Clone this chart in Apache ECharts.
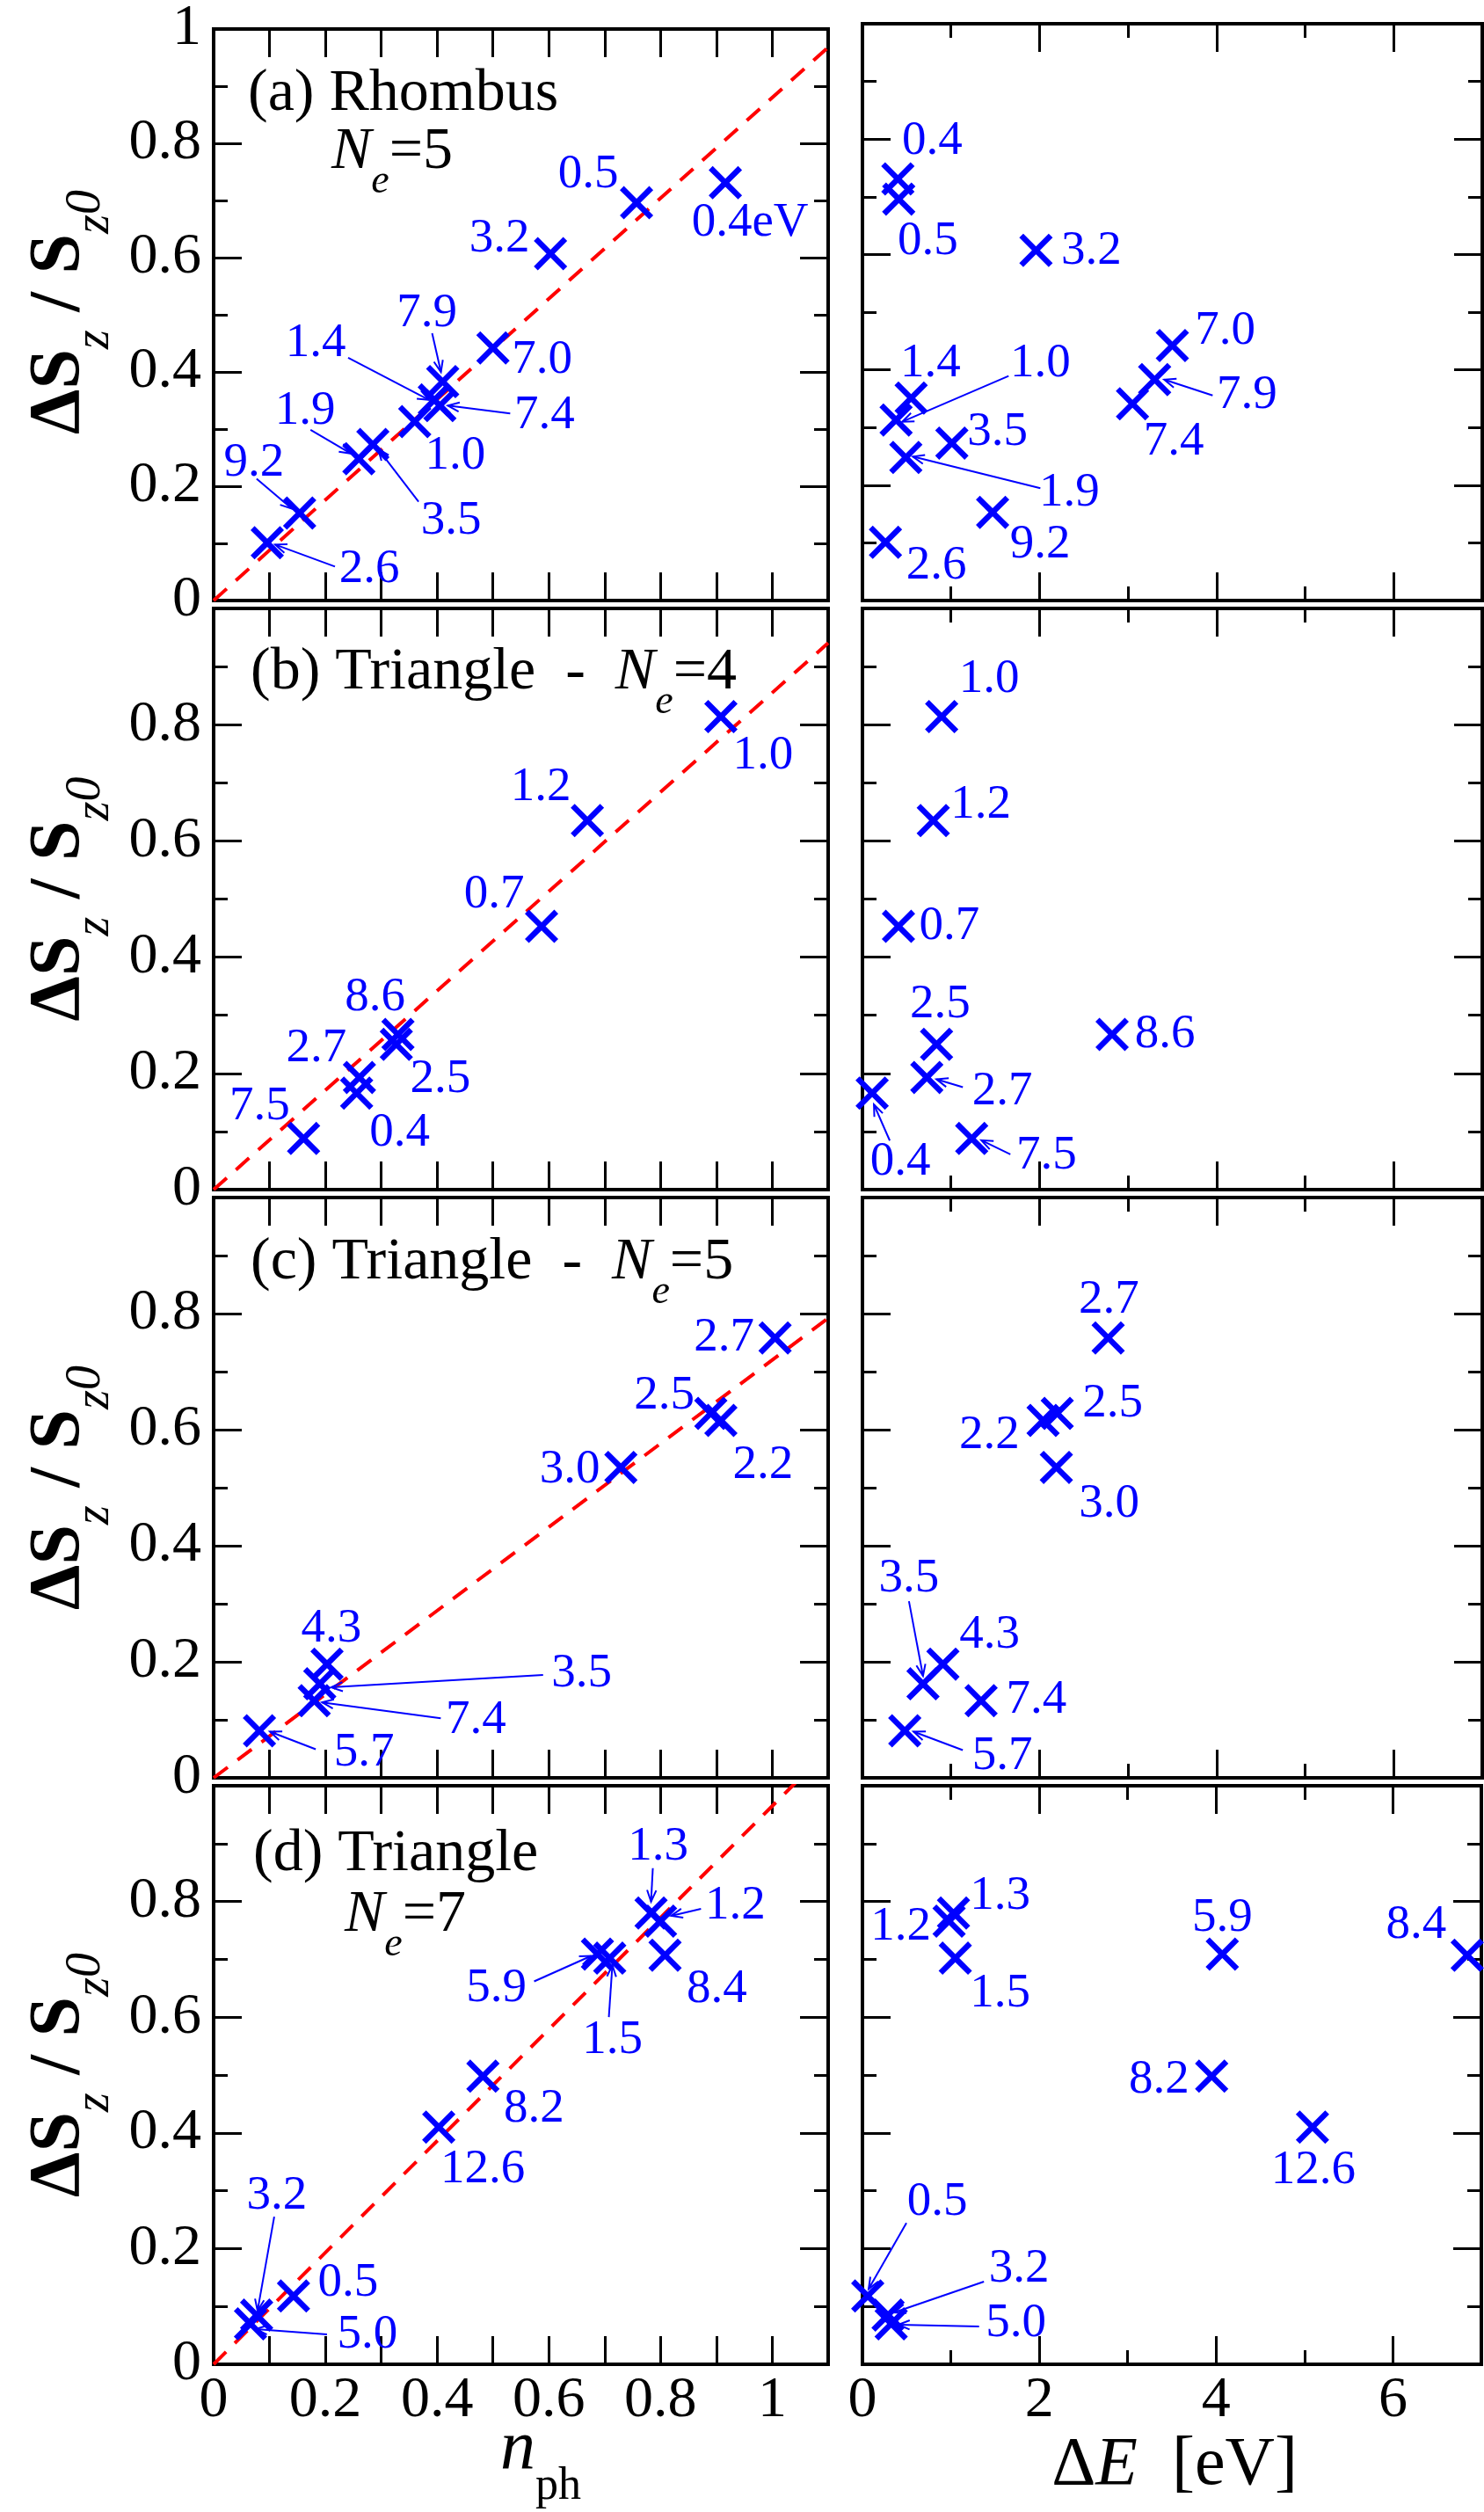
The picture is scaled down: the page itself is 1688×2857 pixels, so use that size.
<!DOCTYPE html>
<html>
<head>
<meta charset="utf-8">
<title>dSz/Sz0 vs n_ph and dE</title>
<script src="https://cdn.jsdelivr.net/npm/echarts@6.0.0/dist/echarts.min.js"></script>
<style>
  html, body { margin: 0; padding: 0; background: #fff; }
  #main { width: 1688px; height: 2857px; }
</style>
</head>
<body>
<div id="main"></div>
<script>
// ---- data ----
// (a) rhombus, Ne=5
const tagsA = ['0.4', '0.5', '3.2', '7.0', '7.9', '1.4', '7.4', '1.0', '1.9', '3.5', '9.2', '2.6'];
const nphA = [0.916, 0.757, 0.603, 0.50, 0.41, 0.395, 0.405, 0.36, 0.26, 0.285, 0.154, 0.096];
const dsA = [0.731, 0.696, 0.607, 0.442, 0.383, 0.351, 0.341, 0.313, 0.248, 0.273, 0.153, 0.101];
const deA = [0.40, 0.41, 1.96, 3.50, 3.30, 0.55, 3.05, 0.38, 0.49, 1.01, 1.47, 0.26];
// (b) triangle, Ne=4
const tagsB = ['1.0', '1.2', '0.7', '8.6', '2.5', '2.7', '0.4', '7.5'];
const nphB = [0.908, 0.669, 0.587, 0.33, 0.327, 0.261, 0.256, 0.161];
const dsB = [0.814, 0.635, 0.453, 0.267, 0.25, 0.193, 0.166, 0.088];
const deB = [0.895, 0.80, 0.407, 2.82, 0.837, 0.727, 0.11, 1.234];
// (c) triangle, Ne=5
const tagsC = ['2.7', '2.5', '2.2', '3.0', '4.3', '3.5', '7.4', '5.7'];
const nphC = [1.005, 0.89, 0.908, 0.729, 0.203, 0.19, 0.18, 0.082];
const dsC = [0.758, 0.628, 0.616, 0.535, 0.196, 0.162, 0.133, 0.081];
const deC = [2.775, 2.20, 2.04, 2.19, 0.909, 0.684, 1.34, 0.478];
// (d) triangle, Ne=7
const tagsD = ['1.3', '1.2', '8.4', '5.9', '1.5', '8.2', '12.6', '0.5', '3.2', '5.0'];
const nphD = [0.783, 0.80, 0.808, 0.687, 0.709, 0.482, 0.403, 0.143, 0.077, 0.066];
const dsD = [0.78, 0.766, 0.707, 0.709, 0.702, 0.498, 0.41, 0.118, 0.085, 0.07];
const deD = [1.03, 0.98, 6.84, 4.07, 1.05, 3.95, 5.09, 0.06, 0.29, 0.325];
// slope of the red dashed guide line in each left panel
const fitSlope = [0.88, 0.855, 0.72, 0.965];

// ---- label placement (pixel offsets from the cross) ----
const labA_L = [[28,46],[-55,-32],[-58,-17],[56,14],[-18,-77],[-135,-64],[119,11],[46,39],[-61,-54],[89,87],[-52,-57],[116,30]];
const arrA_L = {4:[-12,-55,-2,-11], 5:[-98,-48,-6,0], 6:[80,9,9,0], 8:[-55,-33,-9,-6], 9:[52,65,6,5], 10:[-49,-39,-9,-5], 11:[77,27,9,2]};
const labA_R = [[39,-43],[33,48],[63,1],[60,-16],[105,18],[22,-39],[47,43],[164,-64],[186,40],[52,-12],[54,37],[58,27]];
const arrA_R = {4:[66,18,11,0], 7:[128,-50,7,2], 8:[153,35,8,-1]};
const labB_L = [[48,45],[-53,-38],[-54,-36],[-26,-42],[50,40],[-49,-33],[49,45],[-50,-36]];
const arrB_L = {};
const labB_R = [[54,-42],[54,-18],[58,0],[60,0],[4,-45],[86,16],[32,78],[85,20]];
const arrB_R = {5:[41,11,11,2], 6:[20,54,2,13], 7:[44,18,11,2]};
const labC_L = [[-58,0],[-53,-20],[48,51],[-58,3],[5,-40],[298,-12],[184,22],[119,25]];
const arrC_L = {5:[254,-10,13,4], 6:[144,20,9,2], 7:[64,21,12,1]};
const labC_R = [[1,-43],[63,-11],[-61,17],[60,42],[53,-33],[-16,-120],[63,-1],[111,29]];
const arrC_R = {5:[-16,-94,0,-9], 7:[66,22,10,1]};
const labD_L = [[8,-75],[85,-17],[59,39],[-115,39],[3,93],[58,37],[50,48],[62,-15],[23,-136],[133,13]];
const arrD_L = {0:[2,-51,0,-13], 1:[46,-14,12,-6], 3:[-72,31,-7,2], 4:[-1,67,3,8], 8:[20,-112,1,-5], 9:[87,12,6,6]};
const labD_R = [[53,-19],[-55,7],[-58,-34],[0,-41],[51,40],[-60,4],[1,49],[79,-107],[149,-53],[142,0]];
const arrD_R = {7:[44,-83,1,-8], 8:[109,-38,7,-3], 9:[100,3,8,1]};

const BLUE = '#0000ff';
const FAMILY = 'Liberation Serif';
const SERIF = '"Liberation Serif", "Times New Roman", serif';
const CROSS = 'path://M0,12L12,0L50,38L88,0L100,12L62,50L100,88L88,100L50,62L12,100L0,88L38,50Z';

const panels = [
  {nph: nphA, ds: dsA, de: deA, tags: tagsA, tagsL: tagsA.map((t, i) => i === 0 ? t + 'eV' : t), labL: labA_L, arrL: arrA_L, labR: labA_R, arrR: arrA_R},
  {nph: nphB, ds: dsB, de: deB, tags: tagsB, tagsL: tagsB, labL: labB_L, arrL: arrB_L, labR: labB_R, arrR: arrB_R},
  {nph: nphC, ds: dsC, de: deC, tags: tagsC, tagsL: tagsC, labL: labC_L, arrL: arrC_L, labR: labC_R, arrR: arrC_R},
  {nph: nphD, ds: dsD, de: deD, tags: tagsD, tagsL: tagsD, labL: labD_L, arrL: arrD_L, labR: labD_R, arrR: arrD_R}
];
const tops = [27, 692, 1362, 2031];
const heights = [656, 661, 660, 658];

// ---- text helper: runs of differently styled pieces on one baseline ----
const mctx = document.createElement('canvas').getContext('2d');
function fnt(p) {
  return (p.i ? 'italic ' : '') + (p.b ? 'bold ' : '') + p.s + 'px ' + SERIF;
}
function midUp(font, size) {
  mctx.font = font;
  mctx.textBaseline = 'alphabetic';
  const a = mctx.measureText('Hg').fontBoundingBoxAscent;
  mctx.textBaseline = 'middle';
  const m = mctx.measureText('Hg').fontBoundingBoxAscent;
  const d = a - m;
  return isFinite(d) ? d : 0.3375 * size;
}
function textRun(pieces, x, y, opt) {
  opt = opt || {};
  let w = 0;
  const ws = pieces.map(p => {
    mctx.font = fnt(p);
    const v = mctx.measureText(p.t).width;
    w += v;
    return v;
  });
  let cx = opt.center ? -w / 2 : 0;
  const children = pieces.map((p, k) => {
    const el = {
      type: 'text', x: cx, y: (p.dy || 0) - midUp(fnt(p), p.s),
      style: {
        text: p.t, fontFamily: FAMILY, fontSize: p.s,
        fontWeight: p.b ? 'bold' : 'normal', fontStyle: p.i ? 'italic' : 'normal',
        fill: '#000', align: 'left', verticalAlign: 'middle'
      }
    };
    cx += ws[k];
    return el;
  });
  return {type: 'group', x: x, y: y, rotation: opt.rot || 0, children: children, silent: true};
}

// ---- axes ----
const tick = len => ({show: true, inside: true, length: len, lineStyle: {color: '#000', width: 3}});
const noLine = {show: false, onZero: false};
const labelFont = {fontFamily: FAMILY, fontSize: 66, color: '#000'};

const grid = [], xAxis = [], yAxis = [], series = [];

function arrowSeries(xi, yi, xs, ys, arrows) {
  return {
    type: 'custom', xAxisIndex: xi, yAxisIndex: yi, clip: false, silent: true, z: 4,
    data: xs.map((x, i) => [x, ys[i], i]),
    renderItem: (params, api) => {
      const a = arrows[api.value(2)];
      if (!a) return null;
      const p = api.coord([api.value(0), api.value(1)]);
      const sx = p[0] + a[0], sy = p[1] + a[1], ex = p[0] + a[2], ey = p[1] + a[3];
      const ang = Math.atan2(ey - sy, ex - sx), L = 14, w = 0.38;
      const h1 = [ex - L * Math.cos(ang - w), ey - L * Math.sin(ang - w)];
      const h2 = [ex - L * Math.cos(ang + w), ey - L * Math.sin(ang + w)];
      return {
        type: 'group', children: [
          {type: 'line', shape: {x1: sx, y1: sy, x2: ex, y2: ey}, style: {stroke: BLUE, lineWidth: 2}},
          {type: 'polyline', shape: {points: [h1, [ex, ey], h2]}, style: {stroke: BLUE, lineWidth: 2, fill: null}}
        ]
      };
    }
  };
}

function crossSeries(xi, yi, xs, ys, tags, labs) {
  return {
    type: 'scatter', xAxisIndex: xi, yAxisIndex: yi, clip: false, z: 5,
    symbol: CROSS, symbolSize: 38,
    itemStyle: {color: BLUE, opacity: 1},
    label: {show: true, position: 'inside', formatter: '{b}', color: BLUE, fontFamily: FAMILY, fontSize: 55},
    emphasis: {disabled: true},
    data: xs.map((x, i) => ({value: [x, ys[i]], name: tags[i], label: {offset: labs[i]}}))
  };
}

panels.forEach((pn, p) => {
  const last = p === 3;
  for (let side = 0; side < 2; side++) {
    const g = grid.length;
    grid.push({
      left: side === 0 ? 243 : 981, width: side === 0 ? 699 : 705,
      top: tops[p], height: heights[p],
      show: true, borderColor: '#000', borderWidth: 4, backgroundColor: 'transparent'
    });
    const xMain = xAxis.length;
    if (side === 0) {
      const xl = last ? {
        show: true, margin: 9, ...labelFont,
        formatter: v => { const k = Math.round(v * 10); return (k % 2 === 0 && k <= 10) ? String(k / 10) : ''; }
      } : {show: false};
      ['bottom', 'top'].forEach((pos, k) => xAxis.push({
        type: 'value', gridIndex: g, position: pos, min: 0, max: 1.1, interval: 0.1,
        axisLine: noLine, splitLine: {show: false}, axisTick: tick(32),
        axisLabel: k === 0 ? xl : {show: false}
      }));
    } else {
      const xl = last ? {
        show: true, margin: 9, ...labelFont, formatter: v => v < 6.5 ? String(v) : ''
      } : {show: false};
      ['bottom', 'top'].forEach((pos, k) => {
        xAxis.push({
          type: 'value', gridIndex: g, position: pos, min: 0, max: 7, interval: 2,
          axisLine: noLine, splitLine: {show: false}, axisTick: tick(32),
          axisLabel: k === 0 ? xl : {show: false}
        });
        xAxis.push({
          type: 'value', gridIndex: g, position: pos, min: 0, max: 7, interval: 1,
          axisLine: noLine, splitLine: {show: false}, axisTick: tick(16), axisLabel: {show: false}
        });
      });
    }
    const yMain = yAxis.length;
    ['left', 'right'].forEach((pos, k) => yAxis.push({
      type: 'value', gridIndex: g, position: pos, min: 0, max: 1, interval: 0.2,
      axisLine: noLine, splitLine: {show: false}, axisTick: tick(32),
      minorTick: {show: true, splitNumber: 2, length: 16, lineStyle: {color: '#000', width: 3}},
      minorSplitLine: {show: false},
      axisLabel: (side === 0 && k === 0) ? {
        show: true, margin: 14, ...labelFont,
        formatter: v => (v > 0.999 && p !== 0) ? '' : String(Math.round(v * 10) / 10)
      } : {show: false}
    }));

    const xs = side === 0 ? pn.nph : pn.de;
    if (side === 0) {
      series.push({
        type: 'line', xAxisIndex: xMain, yAxisIndex: yMain, silent: true, z: 2,
        showSymbol: false, symbol: 'none', clip: true,
        lineStyle: {color: '#ff0000', width: 4, type: [20, 14]},
        data: [[0, 0], [1.1, fitSlope[p] * 1.1]]
      });
    }
    series.push(arrowSeries(xMain, yMain, xs, pn.ds, side === 0 ? pn.arrL : pn.arrR));
    series.push(crossSeries(xMain, yMain, xs, pn.ds, side === 0 ? pn.tagsL : pn.tags, side === 0 ? pn.labL : pn.labR));
  }
});

// ---- titles ----
const graphic = [];
tops.forEach((t, p) => {
  graphic.push(textRun([
    {t: 'Δ', s: 82, b: 1}, {t: 'S', s: 82, b: 1}, {t: 'z', s: 56, i: 1, dy: 34},
    {t: ' / ', s: 82, b: 1}, {t: 'S', s: 82, b: 1}, {t: 'z', s: 56, i: 1, dy: 34}, {t: '0', s: 56, i: 1, dy: 24}
  ], 89, t + heights[p] / 2, {center: true, rot: Math.PI / 2}));
});
const Ne = (n) => [{t: 'N', s: 68, i: 1}, {t: 'e', s: 46, i: 1, dy: 28}, {t: '=' + n, s: 68}];
graphic.push(textRun([{t: '(a) Rhombus', s: 68}], 282, 125));
graphic.push(textRun(Ne(5), 377, 191));
graphic.push(textRun([{t: '(b) Triangle  -  ', s: 68}].concat(Ne(4)), 285, 783));
graphic.push(textRun([{t: '(c) Triangle  -  ', s: 68}].concat(Ne(5)), 285, 1454));
graphic.push(textRun([{t: '(d) Triangle', s: 68}], 288, 2127));
graphic.push(textRun(Ne(7), 392, 2196));
graphic.push(textRun([{t: 'n', s: 80, i: 1}, {t: 'ph', s: 52, dy: 35}], 615, 2807, {center: true}));
graphic.push(textRun([{t: 'Δ', s: 78}, {t: 'E', s: 78, i: 1}, {t: '  [eV]', s: 78}], 1336, 2825, {center: true}));

const chart = echarts.init(document.getElementById('main'), null, {renderer: 'canvas'});
chart.setOption({
  animation: false,
  backgroundColor: '#fff',
  grid, xAxis, yAxis, series, graphic
});
</script>
</body>
</html>
